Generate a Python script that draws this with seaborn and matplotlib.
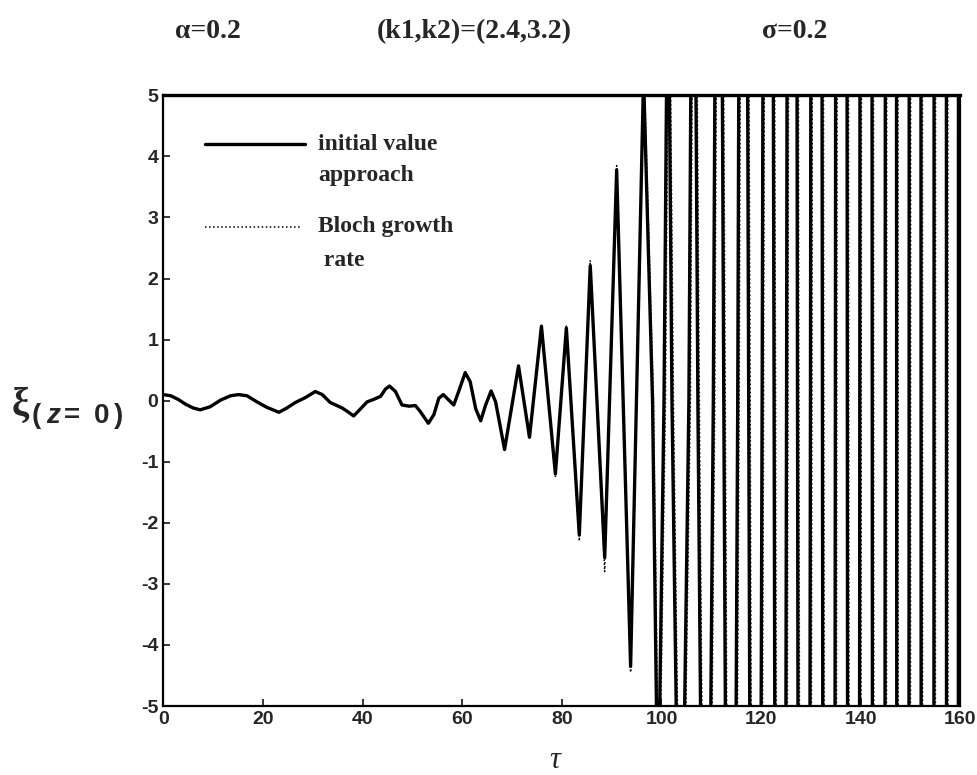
import numpy as np
import pandas as pd
import seaborn as sns
import matplotlib.pyplot as plt

# solid curve: points (tau, xi)
t_solid = [0, 1.5, 3, 4.5, 6, 7.4, 9.4, 11.5, 13.5, 15.1, 16.8, 18.8, 20.8, 23.2,
           24.8, 26.5, 28.5, 30.5, 31.9, 33.5, 35.9, 37.2, 38.2, 39.4, 40.9, 42.2,
           43.6, 44.6, 45.4, 46.6, 47.9, 49.3, 50.6, 51.6, 53.2, 54.3, 55.3, 56.2,
           57.3, 58.3, 59.5, 60.6, 61.6, 62.7, 63.7, 64.7, 65.8, 66.7, 68.5, 71.3,
           73.5, 75.9, 78.7, 80.9, 83.5, 85.7, 88.6, 91, 93.8, 96.4,
           98.2, 99.3, 100.5, 101.3, 102.1, 103.8, 105.5, 106.4, 107.3, 108.9,
           110.4, 111.5, 112.5, 113.9, 115.3, 116.4, 117.5, 118.9, 120.2, 121.4,
           122.6, 123.9, 125.1, 126.2, 127.3, 128.6, 129.9, 131.1, 132.3, 133.6,
           134.9, 136.1, 137.3, 138.6, 139.8, 141, 142.3, 143.6, 144.9, 146,
           147.2, 148.5, 149.7, 150.9, 152.1, 153.4, 154.7, 155.9, 157.2, 158.4,
           159.6, 160.5]
xi_solid = [0.1, 0.08, 0.02, -0.06, -0.12, -0.15, -0.10, 0.01, 0.08, 0.10, 0.08,
            -0.02, -0.11, -0.19, -0.12, -0.03, 0.05, 0.15, 0.10, -0.03, -0.12, -0.19,
            -0.25, -0.15, -0.02, 0.02, 0.07, 0.19, 0.24, 0.15, -0.07, -0.09, -0.08,
            -0.18, -0.37, -0.23, 0.04, 0.10, 0.01, -0.07, 0.20, 0.46, 0.31, -0.13,
            -0.33, -0.07, 0.16, -0.02, -0.8, 0.57, -0.6, 1.22, -1.2, 1.19, -2.2,
            2.21, -2.57, 3.78, -4.35, 5.3,
            0, -7, 0, 8, 0, -10, 0, 12, 0, -15, 0, 18, 0, -22, 0, 27, 0, -33, 0, 40,
            0, -48, 0, 58, 0, -70, 0, 85, 0, -100, 0, 120, 0, -145, 0, 175, 0, -210,
            0, 250, 0, -300, 0, 360, 0, -430, 0, 520, 0, -620, 0, 750]

# dotted curve (Bloch growth rate), only visible over the late part
t_bloch = [78.7, 80.9, 83.5, 85.7, 88.6, 91, 93.8, 96.5,
           98.4, 99.5, 100.8, 101.5, 102.4, 104, 105.8, 106.6, 107.6, 109.1,
           110.7, 111.7, 112.8, 114.1, 115.6, 116.6, 117.8, 119.1, 120.5, 121.6,
           122.9, 124.1, 125.4, 126.4, 127.6, 128.8, 130.2, 131.3, 132.6, 133.8,
           135.2, 136.3, 137.6, 138.8, 140.1, 141.2, 142.6, 143.8, 145.2, 146.2,
           147.5, 148.7, 150, 151.1, 152.4, 153.6, 155, 156.1, 157.5, 158.6,
           159.9, 160.7]
xi_bloch = [-1.25, 1.22, -2.3, 2.3, -2.8, 3.85, -4.45, 5.4,
            0, -7, 0, 8, 0, -10, 0, 12, 0, -15, 0, 18, 0, -22, 0, 27, 0, -33, 0, 40,
            0, -48, 0, 58, 0, -70, 0, 85, 0, -100, 0, 120, 0, -145, 0, 175, 0, -210,
            0, 250, 0, -300, 0, 360, 0, -430, 0, 520, 0, -620, 0, 750]

x_ticks = [0, 20, 40, 60, 80, 100, 120, 140, 160]
y_ticks = [-5, -4, -3, -2, -1, 0, 1, 2, 3, 4, 5]

sns.set_style("ticks")
plt.rcParams["font.family"] = ["Liberation Sans", "DejaVu Sans"]
plt.rcParams["xtick.direction"] = "in"
plt.rcParams["ytick.direction"] = "in"
plt.rcParams["axes.unicode_minus"] = False

fig = plt.figure(figsize=(9.78, 7.75), dpi=100)
ax = fig.add_axes([0.167, 0.089, 0.815, 0.788])

sns.lineplot(x=t_solid, y=xi_solid, ax=ax, color="black", lw=2.4, sort=False)
sns.lineplot(x=t_bloch, y=xi_bloch, ax=ax, color="black", lw=1.1, ls=":", sort=False)

ax.set_xlim(0, 160)
ax.set_ylim(-5, 5)
ax.set_xticks(x_ticks)
ax.set_yticks(y_ticks)
ax.tick_params(length=5, width=1.3, labelsize=14, top=False, right=False)
for lab in ax.get_xticklabels() + ax.get_yticklabels():
    lab.set_fontweight("bold")
for sp in ax.spines.values():
    sp.set_linewidth(1.6)
    sp.set_color("black")
ax.spines["top"].set_linewidth(2.4)

# hand-made legend
serif = ["Liberation Serif", "DejaVu Serif"]
ax.plot([8.4, 28.5], [4.2, 4.2], color="black", lw=2.4)
ax.plot([8.4, 27.5], [2.85, 2.85], color="black", lw=1.1, ls=":")
ax.text(31, 4.2, "initial value", va="center", fontsize=17, fontweight="bold", family=serif)
ax.text(31, 3.68, "approach", va="center", fontsize=17, fontweight="bold", family=serif)
ax.text(31, 2.85, "Bloch growth", va="center", fontsize=17, fontweight="bold", family=serif)
ax.text(31, 2.3, " rate", va="center", fontsize=17, fontweight="bold", family=serif)

# parameter labels along the top
fig.text(208 / 978, 1 - 32 / 775, "α=0.2", ha="center", va="center",
         fontsize=20, fontweight="bold", family=serif)
fig.text(474 / 978, 1 - 32 / 775, "(k1,k2)=(2.4,3.2)", ha="center", va="center",
         fontsize=20, fontweight="bold", family=serif)
fig.text(795 / 978, 1 - 32 / 775, "σ=0.2", ha="center", va="center",
         fontsize=20, fontweight="bold", family=serif)

# axis labels
fig.text(12 / 978, 1 - 405 / 775, "ξ", ha="left", va="center", fontsize=28,
         fontweight="bold", family=serif)
fig.text(32 / 978, 1 - 416 / 775, "(", ha="left", va="center", fontsize=20, fontweight="bold")
fig.text(46 / 978, 1 - 416 / 775, "z", ha="left", va="center", fontsize=20,
         style="italic", fontweight="bold")
fig.text(64 / 978, 1 - 416 / 775, "=", ha="left", va="center", fontsize=20, fontweight="bold")
fig.text(94 / 978, 1 - 416 / 775, "0", ha="left", va="center", fontsize=20, fontweight="bold")
fig.text(114 / 978, 1 - 416 / 775, ")", ha="left", va="center", fontsize=20, fontweight="bold")
fig.text(555 / 978, 1 - 760 / 775, "τ", ha="center", va="center", fontsize=22,
         style="italic", family=serif)

fig.savefig("out.png", dpi=100)
